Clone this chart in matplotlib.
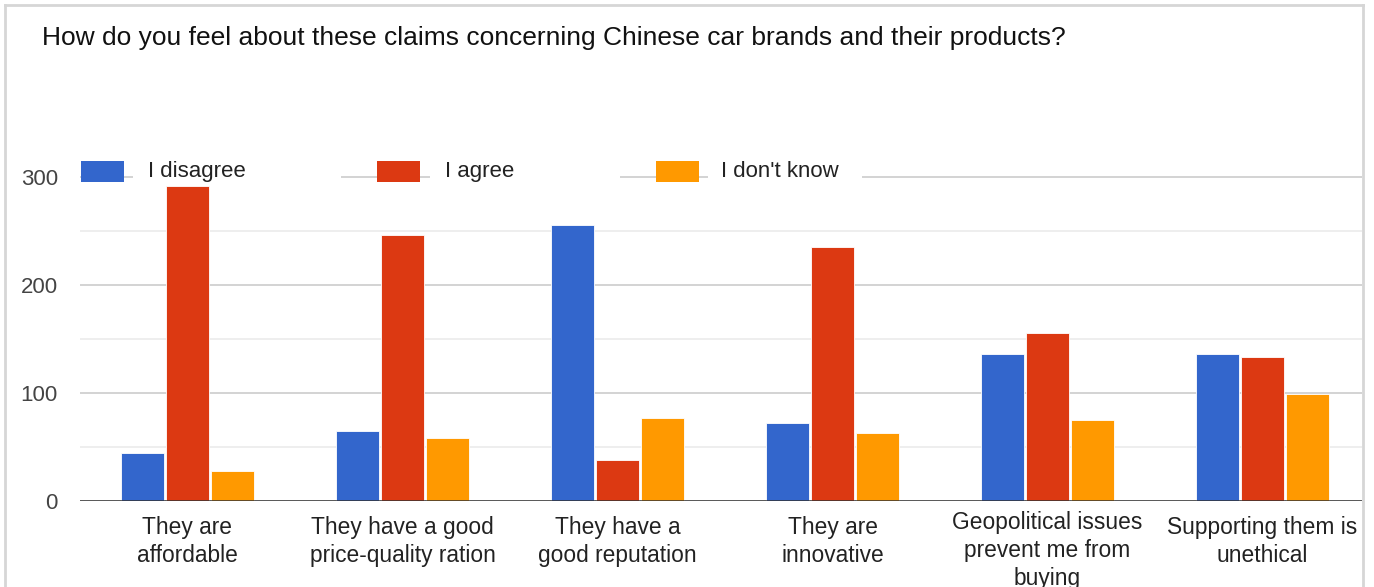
import numpy as np
import matplotlib.pyplot as plt
from matplotlib.patches import Rectangle
from matplotlib.lines import Line2D
from matplotlib.transforms import ScaledTranslation

plt.rcParams['font.family'] = ['Liberation Sans', 'DejaVu Sans']

title = "How do you feel about these claims concerning Chinese car brands and their products?"
categories = ["They are\naffordable",
              "They have a good\nprice-quality ration",
              "They have a\ngood reputation",
              "They are\ninnovative",
              "Geopolitical issues\nprevent me from\nbuying",
              "Supporting them is\nunethical"]
series = ["I disagree", "I agree", "I don't know"]
disagree = [44, 65, 255, 72, 136, 136]
agree = [291, 246, 38, 235, 155, 133]
dont_know = [28, 58, 77, 63, 75, 99]
colors = ["#3366cc", "#dc3912", "#ff9900"]

W, H = 1374, 587
fig = plt.figure(figsize=(W / 100, H / 100), dpi=100)

def fx(x):
    return x / W

def fy(y):
    return 1 - y / H

# plot area in pixel terms: x 80..1362, y 176 (300) .. 501 (0)
ax = fig.add_axes([fx(80), fy(501), fx(1362) - fx(80), fy(176) - fy(501)])

x = np.arange(len(categories))
width = 0.2
step = 0.21
for i, (vals, col) in enumerate(zip([disagree, agree, dont_know], colors)):
    ax.bar(x + (i - 1) * step, vals, width, color=col, edgecolor='white',
           linewidth=0.6, zorder=3)

ax.set_xlim(-0.5, -0.5 + 1282 / 215)
ax.set_ylim(0, 300.6)
ax.set_yticks([0, 100, 200, 300])
ax.set_yticks([50, 150, 250], minor=True)
ax.grid(axis='y', which='major', color='#cccccc', linewidth=1.2, zorder=0)
ax.grid(axis='y', which='minor', color='#ebebeb', linewidth=1.2, zorder=0)
ax.axhline(0, color='#333333', linewidth=1.8, zorder=4)
for s in ax.spines.values():
    s.set_visible(False)
ax.tick_params(axis='y', which='both', length=0, pad=16, labelsize=16,
               labelcolor='#444444')
ax.set_xticks([])

# category labels under the baseline; three-line labels sit a little higher
xform = ax.get_xaxis_transform()
for xi, lab in zip(x, categories):
    lift = 5 if lab.count("\n") >= 2 else 0
    ax.text(xi, 0, lab, transform=xform + ScaledTranslation(0, (lift - 15) / 100, fig.dpi_scale_trans),
            ha='center', va='top', fontsize=16.4, color='#222222', linespacing=1.27,
            clip_on=False)

# title
fig.text(fx(42), fy(38), title, fontsize=19, color='#111111', va='center', ha='left')

# legend on top of the 300 gridline, each label in a white box
leg_patch_x = [81, 377, 656]
leg_text_x = [148, 445, 721]
leg_box = [(133, 341), (430, 620), (708, 862)]
ly = 171.5
for px, tx, (b0, b1), lab, col in zip(leg_patch_x, leg_text_x, leg_box, series, colors):
    fig.patches.append(Rectangle((fx(b0), fy(ly + 12)), fx(b1) - fx(b0), fy(ly - 12) - fy(ly + 12),
                                 transform=fig.transFigure, facecolor='white',
                                 edgecolor='none', zorder=5))
    fig.patches.append(Rectangle((fx(px), fy(ly + 10.5)), fx(43), fy(0) - fy(21),
                                 transform=fig.transFigure, facecolor=col,
                                 edgecolor='none', zorder=6))
    fig.text(fx(tx), fy(ly), lab, fontsize=16, color='#222222', va='center',
             ha='left', zorder=7)

# card border
bc = '#d6d6d6'
fig.add_artist(Line2D([fx(5), fx(5)], [fy(5), 0], color=bc, linewidth=2))
fig.add_artist(Line2D([fx(5), fx(1363)], [fy(5), fy(5)], color=bc, linewidth=2))
fig.add_artist(Line2D([fx(1363), fx(1363)], [fy(5), 0], color=bc, linewidth=2))

fig.savefig("out.png", dpi=100, facecolor='white')
